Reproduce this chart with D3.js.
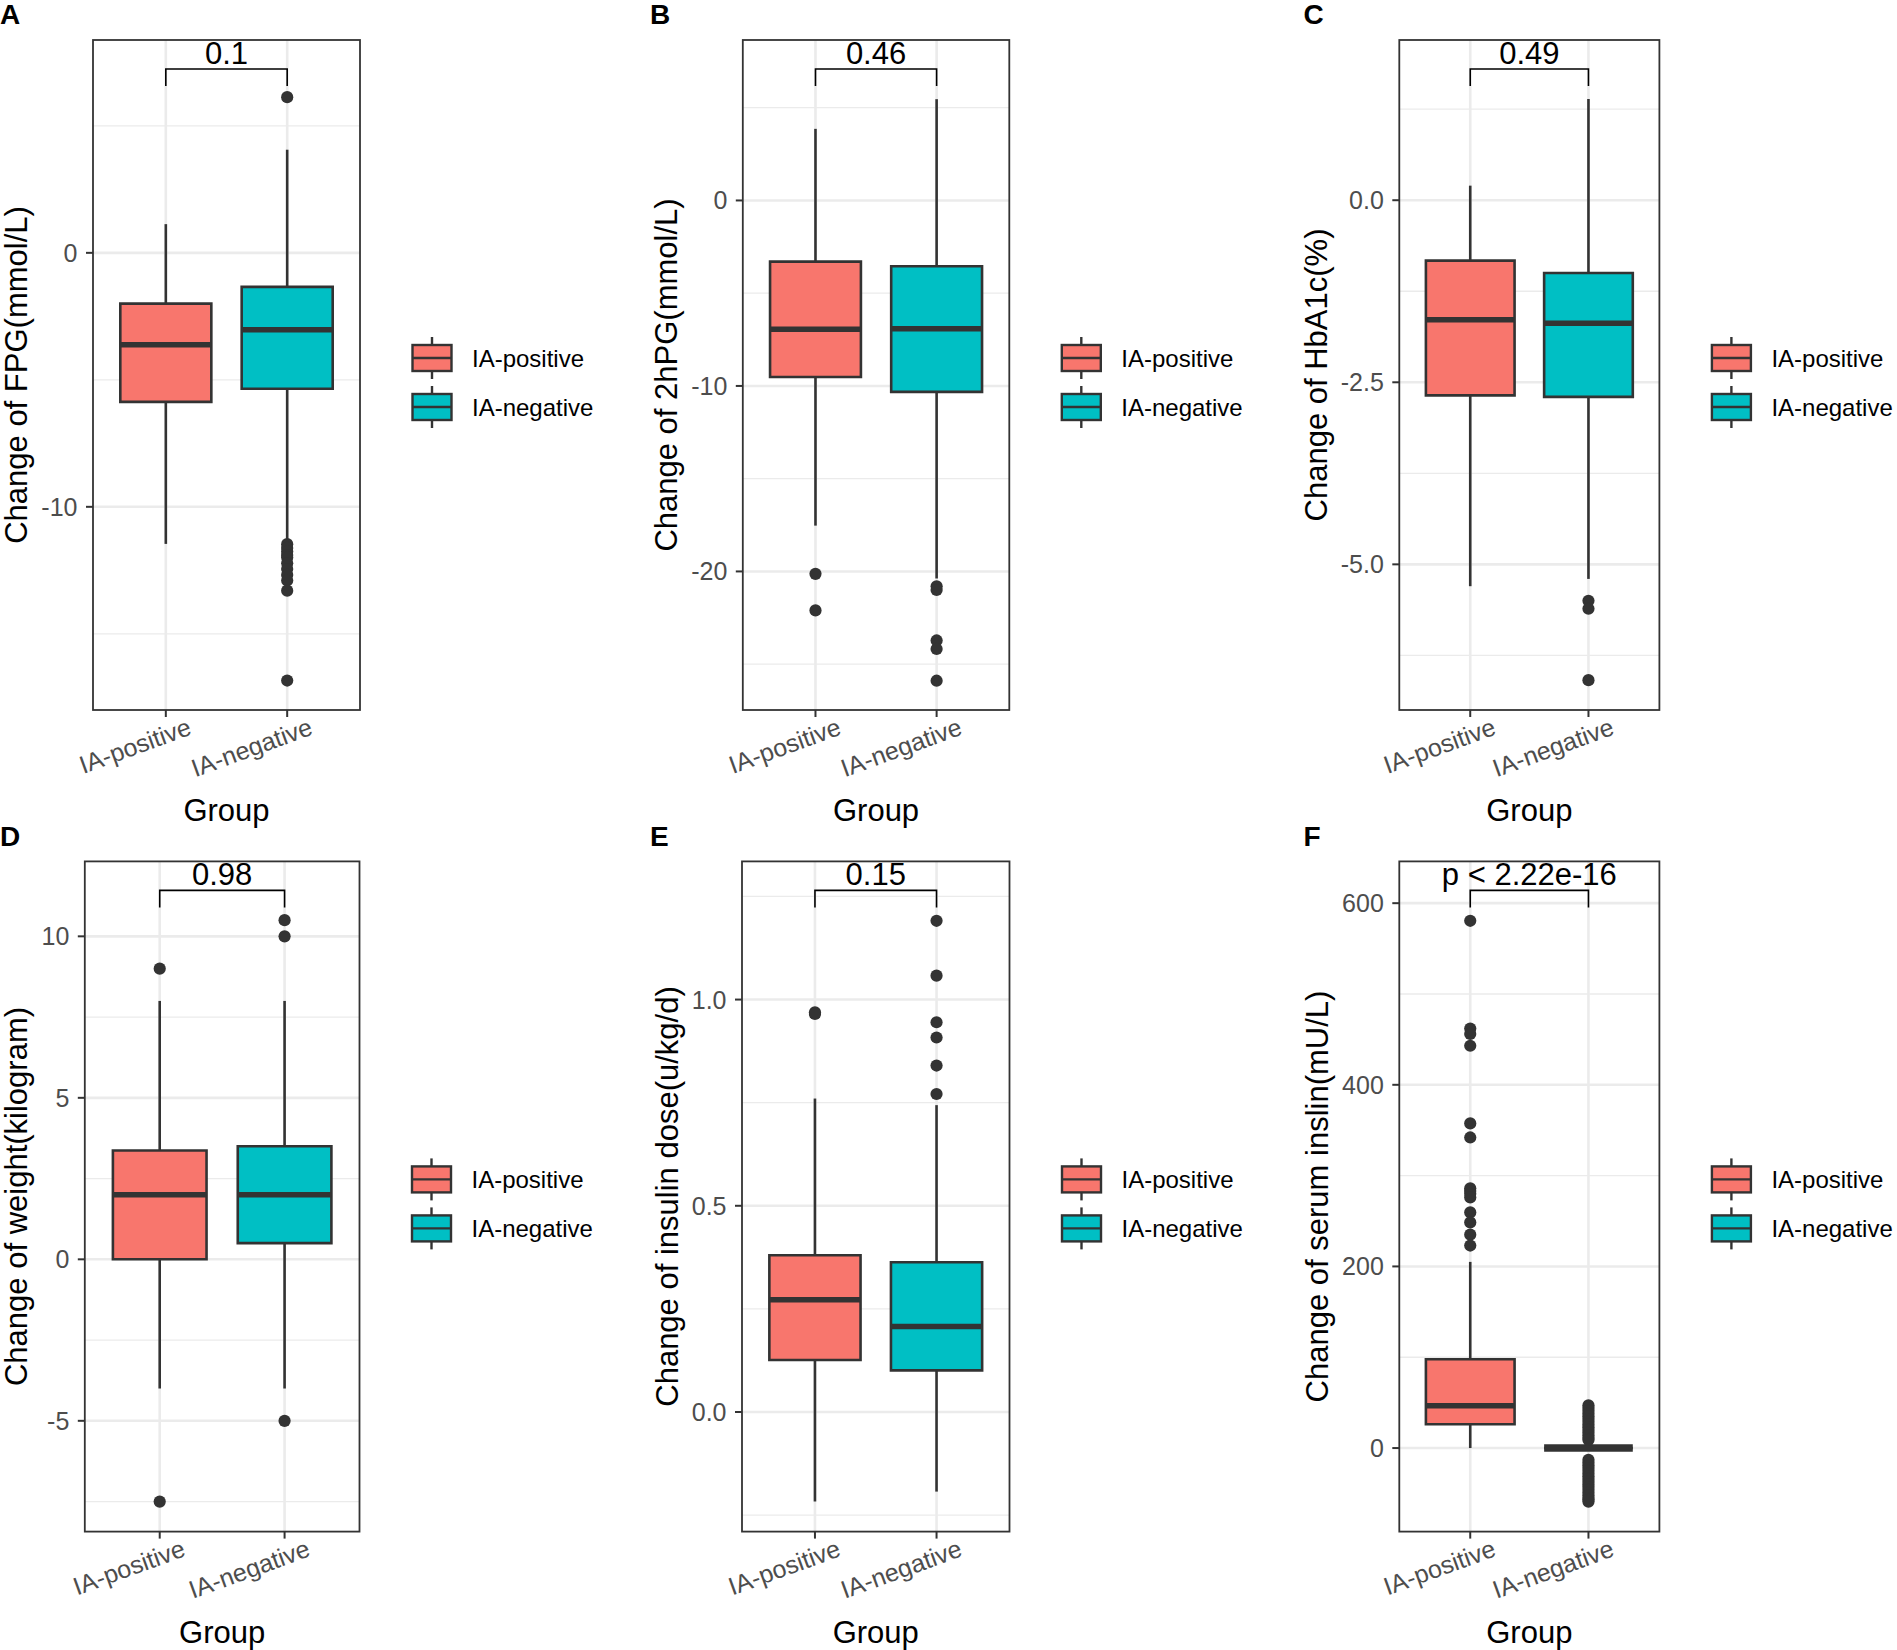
<!DOCTYPE html>
<html><head><meta charset="utf-8">
<script src="https://cdn.jsdelivr.net/npm/d3@7"></script>
<style>body{margin:0;background:#fff}</style></head>
<body><svg id="c" width="1897" height="1650"></svg>
<script>
// ---------- data ----------
const groups = ["IA-positive", "IA-negative"];
const fillColors = ["#F8766D", "#00BFC4"];
const panelLetters = ["A", "B", "C", "D", "E", "F"];
const yTitles = ["Change of FPG(mmol/L)", "Change of 2hPG(mmol/L)", "Change of HbA1c(%)",
  "Change of weight(kilogram)", "Change of insulin dose(u/kg/d)", "Change of serum inslin(mU/L)"];
const pValues = ["0.1", "0.46", "0.49", "0.98", "0.15", "p < 2.22e-16"];
const xTitle = "Group";
const yDomains = [[-18.0, 8.38], [-27.47, 8.65], [-7.0, 2.2], [-8.43, 12.32], [-0.29, 1.335], [-92, 646]];
const yTicks = [[-10, 0], [-20, -10, 0], [-5, -2.5, 0], [-5, 0, 5, 10], [0, 0.5, 1], [0, 200, 400, 600]];
const yTickLabels = [["-10", "0"], ["-20", "-10", "0"], ["-5.0", "-2.5", "0.0"], ["-5", "0", "5", "10"],
  ["0.0", "0.5", "1.0"], ["0", "200", "400", "600"]];
const yMinorTicks = [[-15, -5, 5], [-25, -15, -5, 5], [-6.25, -3.75, -1.25, 1.25], [-7.5, -2.5, 2.5, 7.5],
  [-0.25, 0.25, 0.75, 1.25], [100, 300, 500]];

// box stats: [lower whisker, Q1, median, Q3, upper whisker] for IA-positive, IA-negative
const fpgBoxes = [[-11.46, -5.87, -3.62, -2.0, 1.13], [-11.3, -5.35, -3.03, -1.34, 4.06]];
const fpgOutliers = [[], [6.13, -11.47, -11.62, -11.76, -11.9, -12.0, -12.22, -12.45, -12.68, -12.9, -13.3, -16.84]];
const hpgBoxes = [[-17.53, -9.52, -6.95, -3.3, 3.86], [-20.38, -10.32, -6.92, -3.55, 5.46]];
const hpgOutliers = [[-20.13, -22.1], [-20.8, -21.0, -23.72, -24.18, -25.89]];
const hba1cBoxes = [[-5.3, -2.68, -1.64, -0.83, 0.2], [-5.2, -2.7, -1.69, -1.0, 1.39]];
const hba1cOutliers = [[], [-5.5, -5.61, -6.59]];
const weightBoxes = [[-4.0, 0.0, 2.0, 3.37, 8.0], [-4.0, 0.5, 2.0, 3.5, 8.0]];
const weightOutliers = [[9.0, -7.5], [10.5, 10.0, -5.0]];
const doseBoxes = [[-0.217, 0.126, 0.272, 0.38, 0.76], [-0.193, 0.101, 0.207, 0.363, 0.744]];
const doseOutliers = [[0.969, 0.965], [1.191, 1.058, 0.945, 0.908, 0.84, 0.771]];
const insulinBoxes = [[0, 26.2, 46.6, 97.8, 205], [0, 0, 0, 0, 0]];
const insulinOutliers = [
  [580.6, 462, 456, 443, 357.5, 342, 286, 283, 280, 276, 259.5, 248.5, 235, 223],
  [47, 44, 41, 38, 35, 32, 29, 26, 23, 20, 17, 14, 11, 9,
   -13, -16, -19, -22, -25, -28, -31, -34, -37, -40, -43, -46, -49, -52, -55, -57, -59]];

const allBoxes = [fpgBoxes, hpgBoxes, hba1cBoxes, weightBoxes, doseBoxes, insulinBoxes];
const allOutliers = [fpgOutliers, hpgOutliers, hba1cOutliers, weightOutliers, doseOutliers, insulinOutliers];

// ---------- layout ----------
const layout = [
  {lx: 0, ly: 24, l: 93, r: 360, t: 40, b: 710},
  {lx: 650, ly: 24, l: 742.8, r: 1009.3, t: 40, b: 710},
  {lx: 1303.5, ly: 24, l: 1399.3, r: 1659.4, t: 40, b: 710},
  {lx: 0, ly: 846, l: 84.8, r: 359.5, t: 861.4, b: 1531.6},
  {lx: 650, ly: 846, l: 742, r: 1009.5, t: 861.4, b: 1531.6},
  {lx: 1303.5, ly: 846, l: 1399.3, r: 1659.4, t: 861.4, b: 1531.6}
];

const FONT = "'Liberation Sans', Arial, Helvetica, sans-serif";
const svg = d3.select("#c");
svg.append("rect").attr("width", 1897).attr("height", 1650).attr("fill", "#fff");

layout.forEach((L, i) => {
  const g = svg.append("g");
  const y = d3.scaleLinear().domain(yDomains[i]).range([L.b, L.t]);
  const x = d3.scalePoint().domain(groups).range([L.l, L.r]).padding(0.6);
  const step = x.step();
  const bw = step * 0.75;

  // grid
  g.selectAll(".ymin").data(yMinorTicks[i]).join("line")
    .attr("x1", L.l).attr("x2", L.r).attr("y1", d => y(d)).attr("y2", d => y(d))
    .attr("stroke", "#EBEBEB").attr("stroke-width", 1.3);
  g.selectAll(".ymaj").data(yTicks[i]).join("line")
    .attr("x1", L.l).attr("x2", L.r).attr("y1", d => y(d)).attr("y2", d => y(d))
    .attr("stroke", "#EBEBEB").attr("stroke-width", 2.6);
  g.selectAll(".xmaj").data(groups).join("line")
    .attr("x1", d => x(d)).attr("x2", d => x(d)).attr("y1", L.t).attr("y2", L.b)
    .attr("stroke", "#EBEBEB").attr("stroke-width", 2.6);

  // boxes
  const stats = allBoxes[i];
  groups.forEach((gr, k) => {
    const s = stats[k];
    const cx = x(gr);
    g.append("line").attr("x1", cx).attr("x2", cx).attr("y1", y(s[3])).attr("y2", y(s[4]))
      .attr("stroke", "#333333").attr("stroke-width", 2.6);
    g.append("line").attr("x1", cx).attr("x2", cx).attr("y1", y(s[1])).attr("y2", y(s[0]))
      .attr("stroke", "#333333").attr("stroke-width", 2.6);
    const x0 = cx - bw / 2, x1 = cx + bw / 2;
    const flat = Math.abs(y(s[3]) - y(s[1])) < 1;
    g.append("path")
      .attr("d", `M${x0},${y(s[3])}H${x1}V${y(s[1])}H${x0}Z`)
      .attr("fill", fillColors[k]).attr("stroke", "#333333").attr("stroke-width", 2.6)
      .attr("stroke-linejoin", "miter");
    g.append("line").attr("x1", x0).attr("x2", x1).attr("y1", y(s[2])).attr("y2", y(s[2]))
      .attr("stroke", "#333333").attr("stroke-width", flat ? 7.5 : 5.5);
    g.selectAll(null).data(allOutliers[i][k]).join("circle")
      .attr("cx", cx).attr("cy", d => y(d)).attr("r", 6.1).attr("fill", "#333333");
  });

  // panel border
  g.append("rect").attr("x", L.l).attr("y", L.t).attr("width", L.r - L.l).attr("height", L.b - L.t)
    .attr("fill", "none").attr("stroke", "#333333").attr("stroke-width", 1.8);

  // y ticks + labels
  g.selectAll(".yt").data(yTicks[i]).join("line")
    .attr("x1", L.l - 7).attr("x2", L.l).attr("y1", d => y(d)).attr("y2", d => y(d))
    .attr("stroke", "#333333").attr("stroke-width", 2);
  const ylab = g.selectAll(".yl").data(yTicks[i]).join("text")
    .attr("x", L.l - 15.5).attr("y", d => y(d) + 9)
    .attr("text-anchor", "end").attr("font-family", FONT).attr("font-size", 25).attr("fill", "#4D4D4D")
    .text((d, j) => yTickLabels[i][j]);
  let minX = Infinity;
  ylab.each(function () { const bb = this.getBBox(); minX = Math.min(minX, bb.x); });

  // x ticks + labels
  g.selectAll(".xt").data(groups).join("line")
    .attr("x1", d => x(d)).attr("x2", d => x(d)).attr("y1", L.b).attr("y2", L.b + 7)
    .attr("stroke", "#333333").attr("stroke-width", 2);
  g.selectAll(".xl").data(groups).join("text")
    .attr("transform", d => `translate(${x(d) + 27},${L.b + 24}) rotate(-20)`)
    .attr("text-anchor", "end").attr("font-family", FONT).attr("font-size", 25).attr("fill", "#4D4D4D")
    .text(d => d);

  // axis titles
  g.append("text").attr("transform", `translate(${minX - 14},${(L.t + L.b) / 2}) rotate(-90)`)
    .attr("text-anchor", "middle").attr("font-family", FONT).attr("font-size", 31).attr("fill", "#000")
    .text(yTitles[i]);
  g.append("text").attr("x", (L.l + L.r) / 2).attr("y", L.b + 111)
    .attr("text-anchor", "middle").attr("font-family", FONT).attr("font-size", 31).attr("fill", "#000")
    .text(xTitle);

  // significance bracket
  const xa = x(groups[0]), xb = x(groups[1]);
  const by = L.t + 29, tipY = L.t + 46;
  g.append("path").attr("d", `M${xa},${tipY}V${by}H${xb}V${tipY}`)
    .attr("fill", "none").attr("stroke", "#000").attr("stroke-width", 1.6);
  g.append("text").attr("x", (xa + xb) / 2).attr("y", L.t + 23.5)
    .attr("text-anchor", "middle").attr("font-family", FONT).attr("font-size", 31).attr("fill", "#000")
    .text(pValues[i]);

  // panel letter
  g.append("text").attr("x", L.lx).attr("y", L.ly)
    .attr("font-family", FONT).attr("font-weight", "bold").attr("font-size", 28).attr("fill", "#000")
    .text(panelLetters[i]);

  // legend
  const kx = L.r + 52.5, kw = 39, kh = 26;
  groups.forEach((gr, k) => {
    const cy = L.t + 318 + k * 49;
    const kcx = kx + kw / 2;
    g.append("line").attr("x1", kcx).attr("x2", kcx).attr("y1", cy - kh / 2 - 8).attr("y2", cy + kh / 2 + 8)
      .attr("stroke", "#333333").attr("stroke-width", 2.4);
    g.append("rect").attr("x", kx).attr("y", cy - kh / 2).attr("width", kw).attr("height", kh)
      .attr("fill", fillColors[k]).attr("stroke", "#333333").attr("stroke-width", 2.4);
    g.append("line").attr("x1", kx).attr("x2", kx + kw).attr("y1", cy).attr("y2", cy)
      .attr("stroke", "#333333").attr("stroke-width", 2.4);
    g.append("text").attr("x", L.r + 112).attr("y", cy + 8.7)
      .attr("font-family", FONT).attr("font-size", 24).attr("fill", "#000").text(gr);
  });
});
</script>
</body></html>
